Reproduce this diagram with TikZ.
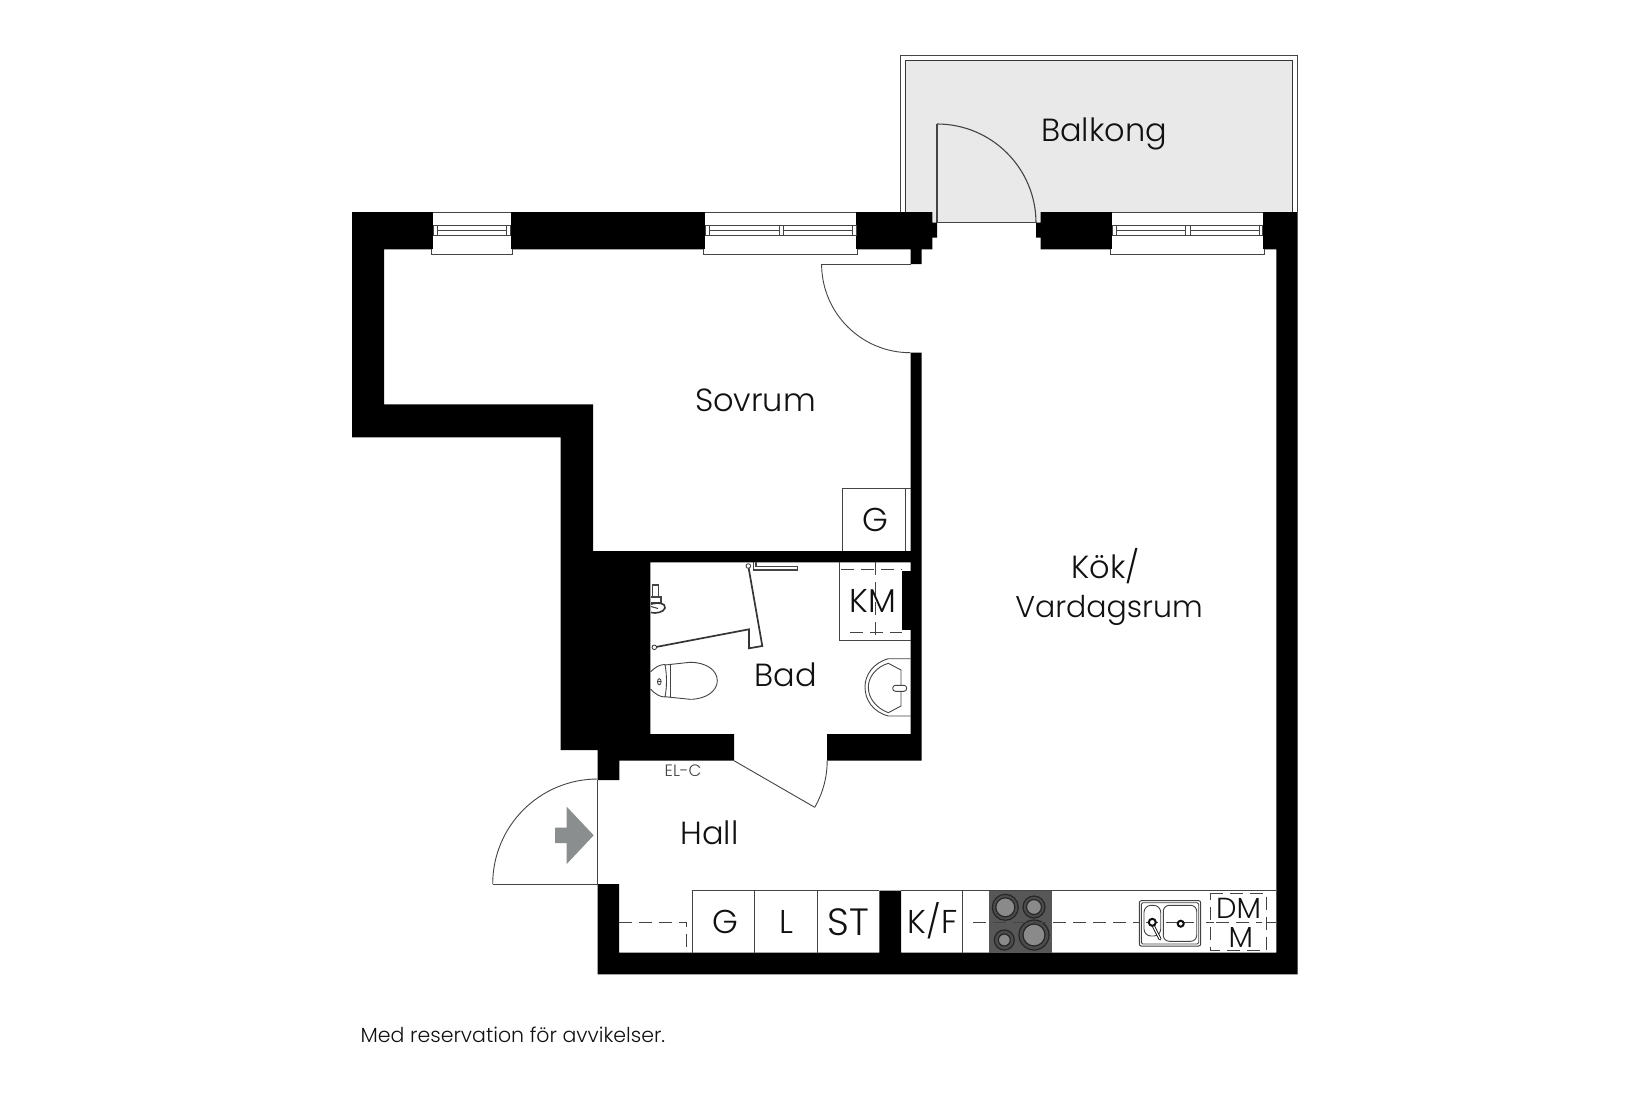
\documentclass[tikz,border=0pt]{standalone}
\usepackage{fontspec}
\setmainfont{Poppins}[UprightFont=* Light]
\definecolor{ink}{HTML}{111111}
\definecolor{thin}{HTML}{444444}
\definecolor{balc}{HTML}{E9E9E9}
\definecolor{hob}{HTML}{575757}
\definecolor{burner}{HTML}{8A8A8A}
\definecolor{arrowgray}{HTML}{8A8E8E}
\tikzset{
  wall/.style={fill=black,draw=none},
  thinline/.style={draw=thin,line width=0.9pt},
  fixture/.style={draw=thin,line width=0.9pt,fill=white},
  dashline/.style={draw=thin,line width=0.9pt,dash pattern=on 13pt off 7pt},
  lblbig/.style={text=ink,inner sep=0pt,anchor=base,font=\fontsize{32}{36}\selectfont},
  lblwide/.style={text=ink,inner sep=0pt,anchor=base,font=\fontsize{30}{36}\selectfont},
  lblmid/.style={text=ink,inner sep=0pt,anchor=base,font=\fontsize{33}{34}\selectfont},
  lblst/.style={text=ink,inner sep=0pt,anchor=base,font=\fontsize{38}{40}\selectfont},
  lbldm/.style={text=ink,inner sep=0pt,anchor=base,font=\fontsize{29}{32}\selectfont},
  lblsmall/.style={text=thin,inner sep=0pt,anchor=base,font=\fontsize{16.5}{20}\selectfont},
  lblnote/.style={text=ink,inner sep=0pt,anchor=base west,font=\fontsize{20.5}{24}\selectfont},
  burnerring/.style={draw=black!85,line width=1.2pt,fill=burner},
  midring/.style={draw=black!75,line width=0.8pt},
  outerring/.style={draw=black!85,line width=1.2pt,fill=black!70}
}
\newcommand{\winframe}[4]{% x1 x2 outerx1 outerx2
  \fill[white] (#1,212) rectangle (#2,249.3);
  \draw[fixture] (#3,249.3) -- (#3,254) -- (#4,254) -- (#4,249.3);
  \draw[thinline] (#1,212.6) -- (#2,212.6);
  \draw[thinline] (#1,225.3) rectangle (#2,235);
}
\newcommand{\hobring}[4]{% x y outer radius inner radius
  \draw[outerring] (#1,#2) circle[radius=#3pt];
  \draw[burnerring] (#1,#2) circle[radius=#4pt];
}
\begin{document}
\begin{tikzpicture}[x=1pt,y=-1pt]
\useasboundingbox (0,0) rectangle (1650,1100);
\fill[white] (0,0) rectangle (1650,1100);

% balcony
\fill[balc] (905.7,60.7) rectangle (1292.7,212);
\fill[balc] (932,212) rectangle (1041,222.7);
\draw[draw=thin,line width=1.1pt] (900.7,212) -- (900.7,55.7) -- (1297.4,55.7) -- (1297.4,212);
\draw[draw=ink!85,line width=1.4pt] (905.7,212) -- (905.7,60.7) -- (1292.7,60.7) -- (1292.7,212);
\draw[thinline,line width=1.1pt] (937,222.7) -- (937,124);
\draw[thinline,line width=1.1pt] (937,124) arc[start angle=90,end angle=0,radius=99pt];
\draw[thinline,line width=1.1pt] (937,222.7) -- (1036,222.7);

% walls
\path[wall] (352,212) -- (932.3,212) -- (932.3,222.7) -- (937,222.7) -- (937,237.7) -- (932.3,237.7) -- (932.3,249.3) -- (921.7,249.3) -- (921.7,264) -- (910.6,264) -- (910.6,249.3) -- (384,249.3) -- (384,404.3) -- (593,404.3) -- (593,551) -- (910.6,551) -- (910.6,352.7) -- (921.7,352.7) -- (921.7,760.7) -- (827,760.7) -- (827,734) -- (910.7,734) -- (910.7,562.3) -- (650.3,562.3) -- (650.3,734) -- (734,734) -- (734,760.7) -- (619.3,760.7) -- (619.3,780) -- (597.7,780) -- (597.7,750) -- (560.7,750) -- (560.7,437.3) -- (352,437.3) -- cycle;
\path[wall] (1040.7,212) -- (1297.6,212) -- (1297.6,974.3) -- (597.7,974.3) -- (597.7,884) -- (619,884) -- (619,952.7) -- (879.3,952.7) -- (879.3,890.7) -- (901,890.7) -- (901,952.7) -- (1276.3,952.7) -- (1276.3,249.3) -- (1040.7,249.3) -- (1040.7,237.7) -- (1036,237.7) -- (1036,222.7) -- (1040.7,222.7) -- cycle;
\path[wall] (902.3,570.7) rectangle (910.7,630);

% windows
\winframe{433.3}{510.8}{431.7}{512.8}
\draw[thinline] (437.3,225.3) -- (437.3,235) (506.5,225.3) -- (506.5,235) (437.3,230) -- (506.5,230);
\winframe{705}{856}{703.4}{857.6}
\draw[thinline] (709.7,225.3) -- (709.7,235) (852,225.3) -- (852,235) (779,225.3) -- (779,235) (783,225.3) -- (783,235) (709.7,230) -- (779,230) (783,230) -- (852,230);
\winframe{1112.3}{1262.7}{1110.7}{1264.3}
\draw[thinline] (1116.7,225.3) -- (1116.7,235) (1259,225.3) -- (1259,235) (1185.7,225.3) -- (1185.7,235) (1190,225.3) -- (1190,235) (1116.7,230) -- (1185.7,230) (1190,230) -- (1259,230);

% doors
\draw[thinline] (910.6,264) -- (821.6,264);
\draw[thinline] (821.6,264) arc[start angle=180,end angle=270,radius=88.7pt];
\draw[thinline] (734,760.7) -- (814.7,807.3);
\draw[thinline] (814.7,807.3) arc[start angle=-30,end angle=0,radius=93.2pt];
\draw[thinline] (597.7,780) -- (597.7,884) -- (492.7,884);
\draw[thinline] (597.7,779) arc[start angle=90,end angle=180,radius=105pt];
\fill[arrowgray] (593.7,835.3) -- (566.7,806.7) -- (566.7,827.7) -- (555,827.7) -- (555,843) -- (566.7,843) -- (566.7,864) -- cycle;

% bedroom wardrobe
\draw[thinline] (842.7,551) -- (842.7,488.7) -- (910.6,488.7);
\draw[thinline] (905.7,488.7) -- (905.7,551);

% washer unit in bath
\draw[thinline] (839.7,562.3) -- (839.7,640.3) -- (910.7,640.3);
\draw[dashline] (841,569.7) -- (902,569.7);
\draw[dashline] (850,632) -- (902,632);
\draw[dashline] (875,562.3) -- (875,640.3);

% shower screen
\draw[draw=ink!85,line width=1.7pt,line join=miter] (654.3,647.3) -- (749,629.3) -- (749,648.3) -- (762.3,646) -- (748.3,566);
\draw[fill=white,draw=ink!85,line width=0.8pt] (654.3,647.3) circle[radius=2.3pt];
\draw[fill=white,draw=ink!85,line width=0.8pt] (748.3,566) circle[radius=2.3pt];
\draw[thinline,line width=1.2pt] (753.3,562.3) -- (753.3,570) -- (797.7,570) -- (797.7,566.7) -- (756,566.7) -- (756,562.3);

% shower mixer
\draw[thinline,line width=1.2pt] (652.7,585) rectangle (658.3,597);
\draw[thinline,line width=2pt,fill=white] (651,597) -- (661,597) -- (661,603) -- (651,603);
\draw[draw=ink!85,line width=1.6pt,fill=white] (651,604) .. controls (658,602) and (666,603) .. (665,608) .. controls (664,612) and (656,614) .. (651,612.5);
\draw[draw=ink!85,line width=1pt] (651,606.5) -- (658,608.5);

% toilet
\draw[thinline] (665,665) -- (690,662.3) .. controls (706,662.3) and (717.3,670) .. (717.3,680.7) .. controls (717.3,691) and (706,699.3) .. (690,699.3) -- (665,696.7);
\draw[thinline] (650.5,672) .. controls (655,667) and (660,664.5) .. (665,664.5) .. controls (667,675) and (667,687) .. (665,697) .. controls (660,697) and (655,694) .. (650.5,689);
\draw[thinline] (670,664.5) -- (670,697);
\draw[thinline] (659.3,681.7) ellipse[x radius=1.8pt,y radius=3pt];
\draw[thinline] (657.5,681.7) -- (661.1,681.7);

% bath basin
\draw[thinline] (910.7,658.7) -- (888.3,658.7) .. controls (873,663) and (865,675) .. (865,687) .. controls (865,700) and (873,712) .. (888.3,716) -- (910.7,716);
\draw[thinline] (901,670) -- (888.3,663.3) .. controls (876,667) and (868.3,677) .. (868.3,687.3) .. controls (868.3,698) and (876,708) .. (888.3,712.7) -- (901,706) -- cycle;
\draw[fixture,rounded corners=2.8pt] (892.7,685.3) rectangle (906.7,691.3);

% kitchen run: hall units
\draw[thinline] (692,952.7) -- (692,890.7) -- (879.3,890.7);
\draw[thinline] (754.3,890.7) -- (754.3,952.7);
\draw[thinline] (817,890.7) -- (817,952.7);
\draw[dashline] (619,922) -- (686.7,922) -- (686.7,952.7);

% kitchen run: counter
\draw[thinline] (901,890.7) -- (1276.3,890.7);
\draw[thinline] (962.7,890.7) -- (962.7,952.7);
\fill[hob] (989.3,891) rectangle (1052.3,952.7);
\hobring{1005.3}{907.3}{13}{9.5}
\hobring{1034}{907}{11}{7.5}
\hobring{1004.3}{940}{10}{6}
\hobring{1034}{935}{15}{11}
\draw[dashline] (973,922) -- (1139,922);

% sink
\draw[fixture,rounded corners=2pt,line width=1pt] (1139.3,900.7) rectangle (1200.7,946);
\draw[thinline,rounded corners=1.5pt] (1141.3,902.7) rectangle (1198.7,944);
\draw[thinline,rounded corners=7pt] (1144,905.3) rectangle (1160.7,936);
\draw[thinline,rounded corners=6pt] (1163.3,905.3) rectangle (1196.7,941.3);
\draw[thinline] (1146,922) -- (1158,922) (1166,922) -- (1194,922);
\draw[draw=ink,line width=3pt,line cap=round] (1152.3,924) -- (1160,939);
\draw[draw=white,line width=1.2pt,line cap=round] (1152.3,924) -- (1160,939);
\draw[draw=ink,line width=2pt,fill=white] (1152.3,922.3) circle[radius=3.5pt];
\draw[draw=ink,line width=2pt,fill=white] (1180.7,923.7) circle[radius=3pt];
\draw[dashline] (1206,922) -- (1214,922);
\draw[dashline] (1210,893.3) -- (1266.7,893.3) -- (1266.7,950) -- (1210,950) -- cycle;
\draw[dashline] (1216,922) -- (1262,922);
\draw[thinline] (1266.7,922) -- (1276.3,922);

% labels
\node[lblbig] (balkong) at (1104,141.5) {Balkong};
\node[lblbig] (sovrum) at (755.5,411) {Sovrum};
\node[lblbig] (kok) at (1105.5,578.5) {Kök/};
\node[lblwide] (vardagsrum) at (1109,617) {Vardagsrum};
\node[lblbig] (bad) at (785.5,686) {Bad};
\node[lblbig] (hall) at (709.5,844) {Hall};
\node[lblmid] (gsov) at (875.5,531.5) {G};
\node[lblmid] (km) at (873,612) {KM};
\node[lblmid] (ghall) at (725.5,933.5) {G};
\node[lblmid] (lhall) at (786,933.5) {L};
\node[lblst] (st) at (848.7,935) {ST};
\node[lblmid] (kf) at (932.7,933.5) {K/F};
\node[lbldm] (dm) at (1238.5,918) {DM};
\node[lbldm] (mm) at (1240.7,947) {M};
\node[lblsmall] (elc) at (683,776.5) {EL-C};
\node[lblnote] (note) at (360.5,1042.5) {Med reservation för avvikelser.};
\end{tikzpicture}
\end{document}
